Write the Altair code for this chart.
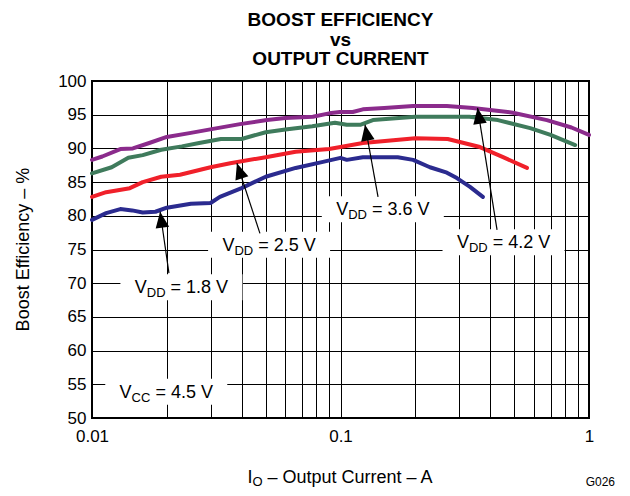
import math
import pandas as pd
import altair as alt

# ---------------- data ----------------
series_names = ["VDD = 1.8 V", "VDD = 2.5 V", "VDD = 3.6 V", "VDD = 4.2 V"]
series_colors = ["#2B2B8F", "#F0202A", "#3F7B5C", "#8B2B8C"]

cur_18 = [0.01, 0.0114, 0.013, 0.0145, 0.016, 0.018, 0.02, 0.025, 0.03, 0.0327, 0.04,
          0.05, 0.066, 0.085, 0.1, 0.106, 0.123, 0.17, 0.196, 0.229, 0.268, 0.294, 0.332, 0.374]
eff_18 = [79.4, 80.4, 81.0, 80.8, 80.5, 80.6, 81.2, 81.8, 81.9, 82.8, 84.1,
          85.8, 87.1, 88.0, 88.6, 88.3, 88.7, 88.7, 88.3, 87.2, 86.4, 85.6, 84.3, 82.8]

cur_25 = [0.01, 0.0114, 0.0142, 0.016, 0.019, 0.0226, 0.03, 0.036, 0.05, 0.066, 0.09,
          0.1, 0.123, 0.2, 0.27, 0.364, 0.451, 0.563]
eff_25 = [82.8, 83.5, 84.1, 85.0, 85.8, 86.1, 87.2, 87.8, 88.7, 89.5, 89.9,
          90.2, 90.8, 91.5, 91.4, 90.2, 88.7, 87.1]

cur_36 = [0.01, 0.012, 0.014, 0.016, 0.019, 0.023, 0.027, 0.033, 0.04, 0.05, 0.06,
          0.077, 0.095, 0.106, 0.12, 0.135, 0.2, 0.33, 0.43, 0.58, 0.7, 0.88]
eff_36 = [86.3, 87.2, 88.6, 89.0, 89.8, 90.3, 90.8, 91.4, 91.4, 92.4, 92.8,
          93.3, 93.8, 93.5, 93.5, 94.2, 94.7, 94.7, 94.2, 93.0, 92.0, 90.5]

cur_42 = [0.01, 0.011, 0.013, 0.0146, 0.017, 0.02, 0.025, 0.0307, 0.0394, 0.0506, 0.06,
          0.0774, 0.09, 0.0995, 0.112, 0.123, 0.15, 0.196, 0.268, 0.341, 0.4, 0.494, 0.677, 0.85, 1.0]
eff_42 = [88.3, 88.8, 89.9, 90.0, 90.8, 91.7, 92.3, 92.9, 93.6, 94.2, 94.5,
          94.7, 95.2, 95.4, 95.4, 95.8, 96.0, 96.3, 96.3, 96.0, 95.7, 95.3, 94.2, 93.1, 92.0]

x_grid_values = [0.01, 0.02, 0.03, 0.04, 0.05, 0.06, 0.07, 0.08, 0.09,
                 0.1, 0.2, 0.3, 0.4, 0.5, 0.6, 0.7, 0.8, 0.9, 1]
x_label_values = [0.01, 0.1, 1]
x_tick_labels = ["0.01", "0.1", "1"]
y_tick_values = [50, 55, 60, 65, 70, 75, 80, 85, 90, 95, 100]

title_lines = ["BOOST EFFICIENCY", "vs", "OUTPUT CURRENT"]
y_title = "Boost Efficiency \u2013 %"
x_title_main, x_title_sub, x_title_rest = "I", "O", "\u2013 Output Current \u2013 A"
figure_code = "G026"

# annotations: (subscript, value text, centre current, baseline efficiency)
ann_sub = ["DD", "DD", "DD", "DD", "CC"]
ann_val = ["1.8", "2.5", "3.6", "4.2", "4.5"]
ann_x = [0.0229, 0.0516, 0.148, 0.453, 0.0199]
ann_y = [68.5, 74.8, 80.1, 75.2, 53.0]

# arrows: tail (near label) -> tip (on curve)
arr_tail_x = [0.0204, 0.0474, 0.1416, 0.4265]
arr_tail_y = [71.5, 77.4, 82.8, 77.9]
arr_tip_x = [0.0188, 0.0383, 0.1255, 0.356]
arr_tip_y = [80.6, 87.8, 93.5, 96.0]

# ---------------- layout ----------------
W, H = 497, 337
X_MIN, X_MAX = 0.01, 1.0
Y_MIN, Y_MAX = 50, 100
PX_DEC = W / (math.log10(X_MAX) - math.log10(X_MIN))
PX_UNIT = H / (Y_MAX - Y_MIN)
FONT = "Liberation Sans"
FS = 18
SUB_FS = 13
SPACE = 0.278

CW = {"V": .667, "D": .722, "C": .722, "I": .278, "O": .778, " ": .278, "=": .584,
      ".": .278, "\u2013": .556, "A": .667, "u": .556, "t": .278, "p": .556,
      "r": .333, "e": .556, "n": .556}


def text_w(s, fs):
    return sum(CW.get(c, .556) for c in s) * fs


def shift_x(x, px):
    return x * 10 ** (px / PX_DEC)


def shift_y(y, px_down):
    return y - px_down / PX_UNIT


# ---------------- tables ----------------
rows = []
for name, xs_, ys_ in zip(series_names, [cur_18, cur_25, cur_36, cur_42],
                          [eff_18, eff_25, eff_36, eff_42]):
    for a, b in zip(xs_, ys_):
        rows.append({"x": a, "y": b, "s": name})
df_lines = pd.DataFrame(rows)

box_rows, v_rows, sub_rows, rest_rows = [], [], [], []
for sub, val, xc, yb in zip(ann_sub, ann_val, ann_x, ann_y):
    rest = "= " + val + " V"
    wv, ws, wsp, wr = text_w("V", FS), text_w(sub, SUB_FS), SPACE * FS, text_w(rest, FS)
    left = -(wv + ws + wsp + wr) / 2
    v_rows.append({"x": shift_x(xc, left), "y": yb, "t": "V"})
    sub_rows.append({"x": shift_x(xc, left + wv), "y": shift_y(yb, 4), "t": sub})
    rest_rows.append({"x": shift_x(xc, left + wv + ws + wsp), "y": yb, "t": rest})
    box_rows.append({"x": shift_x(xc, -61), "x2": shift_x(xc, 61),
                     "y": shift_y(yb, -19), "y2": shift_y(yb, 7)})
df_box = pd.DataFrame(box_rows)
df_v, df_sub, df_rest = pd.DataFrame(v_rows), pd.DataFrame(sub_rows), pd.DataFrame(rest_rows)

arr_rows, head_rows = [], []
HEAD = 8
for tx, ty, px, py in zip(arr_tail_x, arr_tail_y, arr_tip_x, arr_tip_y):
    dx = (math.log10(px) - math.log10(tx)) * PX_DEC
    dy = -(py - ty) * PX_UNIT
    L = math.hypot(dx, dy)
    ux, uy = dx / L, dy / L
    arr_rows.append({"x": tx, "y": ty, "x2": px, "y2": py})
    head_rows.append({"x": shift_x(px, -HEAD * ux), "y": shift_y(py, -HEAD * uy),
                      "ang": math.degrees(math.atan2(ux, -uy)) % 360})
df_arr, df_head = pd.DataFrame(arr_rows), pd.DataFrame(head_rows)

# ---------------- chart ----------------
label_expr = " : ".join(f"datum.value == {v} ? '{t}'" for v, t in zip(x_label_values, x_tick_labels)) + " : ''"

xs = alt.Scale(type="log", domain=[X_MIN, X_MAX], nice=False)
ys = alt.Scale(domain=[Y_MIN, Y_MAX], nice=False, zero=False)

x_axis = alt.Axis(values=x_grid_values, labelExpr=label_expr, title=None, grid=True,
                  gridColor="black", gridWidth=1, gridOpacity=1, ticks=False, domain=False,
                  labelFontSize=17, labelFont=FONT, labelColor="black", labelPadding=10,
                  labelFlush=False, labelOverlap=False)
y_axis = alt.Axis(values=y_tick_values, title=None, grid=True, gridColor="black", gridWidth=1,
                  gridOpacity=1, ticks=False, domain=False, labelFontSize=17, labelFont=FONT,
                  labelColor="black", labelPadding=6)

X = lambda: alt.X("x:Q", scale=xs, axis=x_axis)
Y = lambda: alt.Y("y:Q", scale=ys, axis=y_axis)

lines = alt.Chart(df_lines).mark_line(strokeWidth=4, strokeJoin="round", strokeCap="round").encode(
    x=X(), y=Y(),
    color=alt.Color("s:N", scale=alt.Scale(domain=series_names, range=series_colors), legend=None),
)

boxes = alt.Chart(df_box).mark_rect(color="white").encode(x=X(), x2="x2", y=Y(), y2="y2")

arrows = alt.Chart(df_arr).mark_rule(color="black", strokeWidth=1.2).encode(
    x=X(), x2="x2", y=Y(), y2="y2")

heads = alt.Chart(df_head).mark_point(shape="M0,-1L0.85,1L-0.85,1Z", filled=True, color="black",
                                      opacity=1, size=256).encode(
    x=X(), y=Y(), angle=alt.Angle("ang:Q", scale=None))


def txt(df, fs):
    return alt.Chart(df).mark_text(align="left", baseline="alphabetic", font=FONT, fontSize=fs,
                                   color="black").encode(x=X(), y=Y(), text="t:N")


t_v, t_sub, t_rest = txt(df_v, FS), txt(df_sub, SUB_FS), txt(df_rest, FS)

# three-line title as one multi-line text
title = alt.Chart(pd.DataFrame({"k": [0]})).mark_text(
    align="center", baseline="alphabetic", font=FONT, fontSize=19, fontWeight="bold",
    color="black", lineHeight=19.5).encode(
    x=alt.value(W / 2), y=alt.value(-55), text=alt.value(title_lines))

yt = alt.Chart(pd.DataFrame({"t": [y_title]})).mark_text(
    align="center", baseline="alphabetic", angle=270, font=FONT, fontSize=18, color="black").encode(
    x=alt.value(-63), y=alt.value(H / 2), text="t:N")

wI, wO, wsp, wR = text_w(x_title_main, FS), text_w(x_title_sub, SUB_FS), SPACE * FS, text_w(x_title_rest, FS)
x0 = W / 2 - (wI + wO + wsp + wR) / 2
df_xt = pd.DataFrame({"t": [x_title_main, x_title_sub, x_title_rest],
                      "xx": [x0, x0 + wI, x0 + wI + wO + wsp],
                      "yy": [H + 65, H + 68, H + 65],
                      "fs": [FS, SUB_FS, FS]})
xt = alt.Chart(df_xt).mark_text(align="left", baseline="alphabetic", font=FONT, color="black").encode(
    x=alt.X("xx:Q", scale=None), y=alt.Y("yy:Q", scale=None), text="t:N",
    size=alt.Size("fs:Q", scale=None))

code = alt.Chart(pd.DataFrame({"t": [figure_code]})).mark_text(
    align="right", baseline="alphabetic", font=FONT, fontSize=12, color="black").encode(
    x=alt.value(523), y=alt.value(H + 68), text="t:N")

chart = alt.layer(lines, boxes, arrows, heads, t_v, t_sub, t_rest, title, yt, xt, code).properties(
    width=W, height=H,
    autosize=alt.AutoSizeParams(type="none"),
    padding={"left": 84, "top": 73, "right": 33, "bottom": 70},
).configure_view(stroke="black", strokeWidth=2)

chart.save("out.html", embed_options={"renderer": "svg", "actions": False})
